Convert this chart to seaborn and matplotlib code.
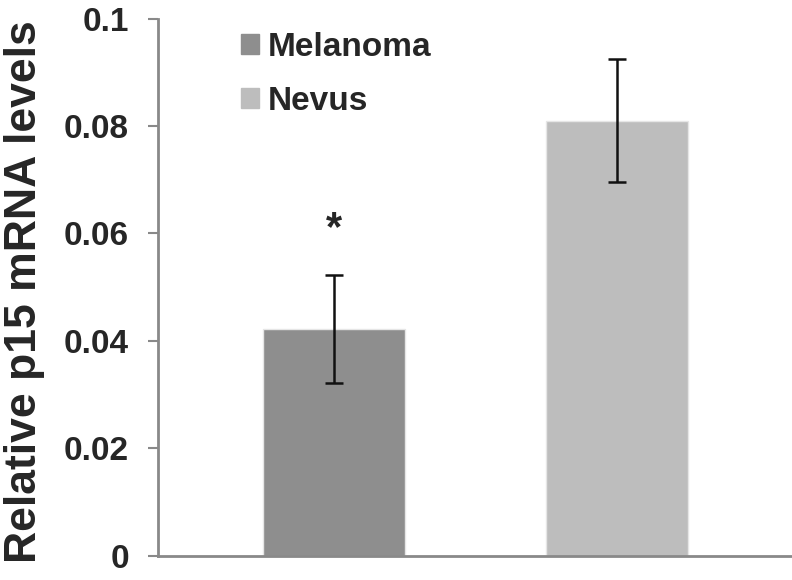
import matplotlib
matplotlib.use('Agg')

import matplotlib.pyplot as plt
import matplotlib.patches as mpatches
import seaborn as sns
import pandas as pd

# data
groups = ["Melanoma", "Nevus"]
levels = [0.0422, 0.0810]
errors = [0.0101, 0.0114]
colors = ["#8e8e8e", "#bdbdbd"]
star_y = 0.0608

sns.set_style("white")
plt.rcParams['font.family'] = ['Liberation Sans', 'DejaVu Sans']

df = pd.DataFrame({"group": groups, "level": levels})

fig = plt.figure(figsize=(7.92, 5.8), dpi=100)
ax = fig.add_axes([0.1995, 0.0419, 0.80, 0.9259])

sns.barplot(data=df, x="group", y="level", hue="group", palette=colors,
            width=0.5, edgecolor="#e6e6e6", linewidth=1, legend=False, ax=ax)
ax.errorbar(range(len(groups)), levels, yerr=errors, fmt="none",
            ecolor="#111111", elinewidth=1.8, capsize=6.5, capthick=1.8)

# significance mark
ax.text(0, star_y, "*", ha="center", va="center", fontsize=30, fontweight="bold")

ax.set_ylim(0, 0.1)
ax.set_xlim(-0.622, 1.618)
ax.set_yticks([0, 0.02, 0.04, 0.06, 0.08, 0.1])
ax.set_yticklabels(["0", "0.02", "0.04", "0.06", "0.08", "0.1"])
ax.set_xticks([])
ax.set_xlabel("")
ax.set_ylabel("Relative p15 mRNA levels", fontsize=32, fontweight="bold")
ax.yaxis.set_label_coords(-0.178, 0.491)

for lab in ax.get_yticklabels():
    lab.set_fontweight("bold")
    lab.set_fontsize(24)
ax.tick_params(axis="y", direction="out", length=7, width=1.5, color="#898989", pad=14, left=True)

for s in ["top", "right"]:
    ax.spines[s].set_visible(False)
for s in ["left", "bottom"]:
    ax.spines[s].set_color("#898989")
    ax.spines[s].set_linewidth(2)

handles = [mpatches.Patch(color=c, label=g) for g, c in zip(groups, colors)]
leg = ax.legend(handles=handles, loc="upper left", bbox_to_anchor=(0.131, 0.976),
                frameon=False, borderpad=0, borderaxespad=0,
                handlelength=0.53, handleheight=0.53, handletextpad=0.27,
                labelspacing=0.69, prop={"weight": "bold", "size": 24})

plt.savefig("out.png", dpi=100)
plt.close()
